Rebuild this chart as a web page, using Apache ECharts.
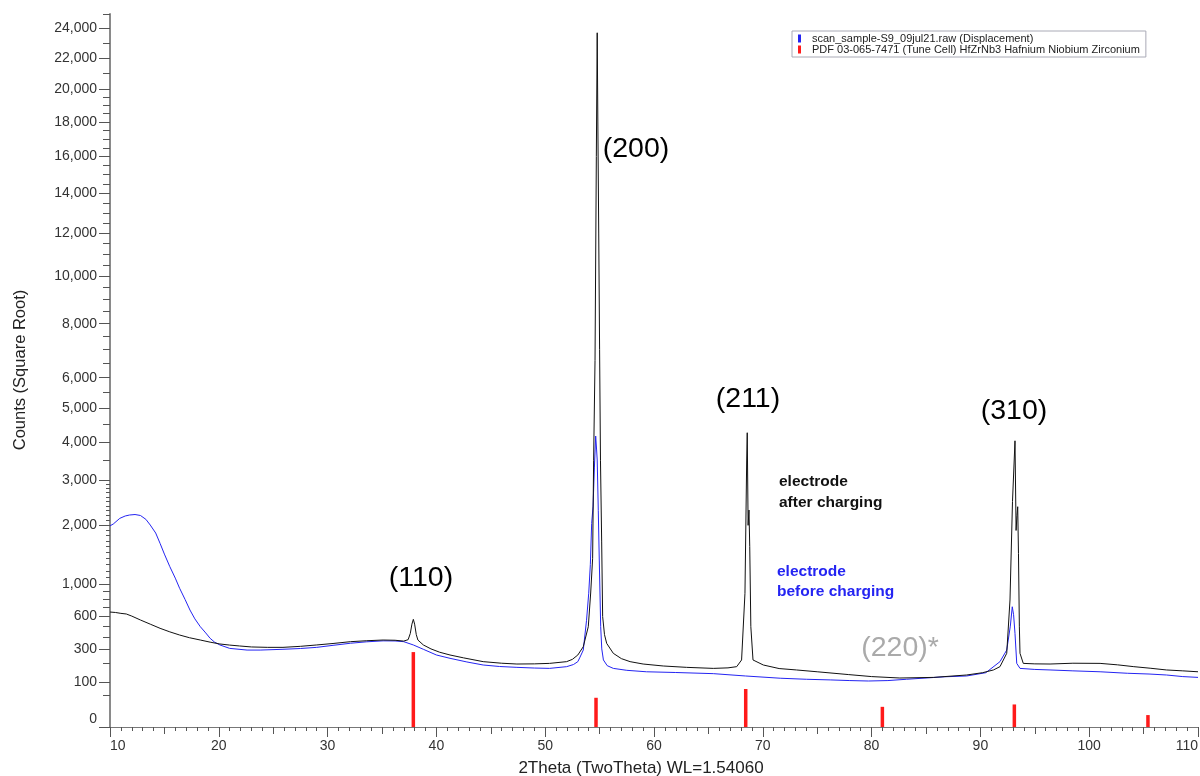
<!DOCTYPE html>
<html>
<head>
<meta charset="utf-8">
<title>XRD pattern – HfZrNb3 electrode</title>
<script src="https://cdn.jsdelivr.net/npm/echarts@6/dist/echarts.min.js"></script>
<style>
  html, body { margin: 0; padding: 0; background: #fff; }
  #chart { width: 1200px; height: 776px; }
</style>
</head>
<body>
<div id="chart"></div>
<script>
// Scan after charging: [2theta (deg), counts]
const afterCharging = [
  [10.0, 650], [10.5, 645], [11.0, 635], [11.5, 628], [12.0, 605], [12.8, 563], [13.7, 520],
  [14.6, 479], [15.5, 445], [16.4, 416], [17.3, 392], [18.3, 372], [19.2, 354], [20.1, 339],
  [21.0, 330], [21.9, 323], [23.0, 315], [24.5, 312], [25.9, 312], [27.5, 320], [29.0, 331],
  [30.5, 343], [32.1, 358], [33.6, 366], [35.1, 372], [36.2, 370], [37.0, 363], [37.4, 375],
  [37.6, 430], [37.75, 520], [37.88, 570], [38.0, 520], [38.15, 420], [38.3, 372], [38.8, 331],
  [39.5, 300], [40.3, 275], [41.25, 255], [42.5, 235], [44.3, 210], [46.0, 200], [47.4, 195],
  [49.0, 196], [50.4, 199], [51.97, 210], [52.5, 225], [53.0, 255], [53.5, 317], [53.96, 495],
  [54.18, 883], [54.36, 1400], [54.45, 3500], [54.58, 6600], [54.7, 16000], [54.78, 23700],
  [54.84, 18000], [54.92, 12000], [55.0, 7000], [55.08, 3500], [55.19, 1700], [55.28, 600],
  [55.45, 420], [55.65, 344], [56.26, 267], [57.0, 230], [57.8, 210], [59.0, 195], [60.85, 183],
  [63.0, 175], [65.45, 169], [66.8, 172], [67.6, 179], [68.05, 221], [68.36, 879], [68.52, 3505],
  [68.57, 4258], [68.65, 2000], [68.73, 2315], [68.8, 1600], [68.9, 495], [69.1, 221], [70.05, 189],
  [71.5, 168], [73.1, 160], [75.0, 150], [77.9, 135], [80.0, 125], [82.6, 118], [85.7, 121],
  [88.74, 133], [90.2, 145], [91.2, 160], [91.8, 179], [92.42, 267], [92.72, 793], [92.95, 2500],
  [93.18, 4028], [93.28, 1900], [93.36, 2200], [93.43, 2386], [93.5, 1482], [93.58, 500],
  [93.64, 267], [93.94, 199], [95.0, 196], [96.4, 195], [98.5, 200], [101.0, 199], [102.6, 190],
  [104.1, 179], [105.6, 170], [107.1, 160], [108.6, 155], [110.0, 150]
];

// Scan before charging: [2theta (deg), counts]
const beforeCharging = [
  [10.0, 1990], [10.3, 2026], [10.9, 2141], [11.4, 2190], [11.8, 2210], [12.3, 2220], [12.8, 2200],
  [13.3, 2120], [13.7, 2006], [14.2, 1850], [14.6, 1659], [15.0, 1470], [15.5, 1264], [16.0, 1090],
  [16.4, 946], [16.9, 800], [17.35, 673], [17.8, 575], [18.3, 495], [18.8, 435], [19.2, 387],
  [19.6, 355], [20.1, 331], [21.0, 304], [22.6, 291], [23.8, 291], [25.9, 297], [27.5, 303],
  [29.0, 312], [30.5, 328], [32.1, 345], [33.6, 357], [35.1, 365], [36.2, 364], [37.0, 358],
  [37.88, 331], [38.8, 297], [40.0, 255], [41.25, 232], [42.8, 208], [44.3, 189], [45.8, 180],
  [47.4, 175], [49.0, 171], [50.4, 169], [51.97, 179], [52.6, 192], [53.0, 210], [53.2, 240],
  [53.5, 291], [53.8, 560], [54.0, 880], [54.15, 1300], [54.27, 2037], [54.4, 2400], [54.52, 3300],
  [54.64, 4163], [54.72, 3800], [54.78, 3505], [54.88, 2300], [54.97, 1371], [55.1, 495],
  [55.2, 300], [55.35, 221], [55.7, 185], [56.26, 169], [57.5, 158], [59.3, 150], [62.0, 146],
  [65.45, 140], [68.4, 128], [71.6, 117], [74.0, 112], [76.2, 109], [78.0, 106], [79.7, 104],
  [81.5, 106], [83.2, 112], [85.0, 118], [86.7, 124], [88.74, 128], [90.5, 145], [91.8, 210],
  [92.42, 291], [92.75, 500], [92.93, 711], [93.05, 620], [93.18, 431], [93.34, 199], [93.64, 169],
  [95.0, 163], [96.4, 160], [98.5, 155], [101.0, 150], [103.5, 142], [105.5, 138], [107.1, 133],
  [108.6, 125], [110.0, 121]
];

// Reference pattern PDF 03-065-7471 (HfZrNb3): line positions and heights
const pdfPositions = [37.88, 54.67, 68.43, 80.99, 93.12, 105.4];
const pdfCounts = [276, 42, 71, 20, 25, 7];

// Square-root axis ticks (in counts)
const yMajorTicks = [0, 100, 300, 600, 1000, 2000, 3000, 4000, 5000, 6000, 8000, 10000,
  12000, 14000, 16000, 18000, 20000, 22000, 24000];
const yMinorTicks = [50, 200, 400, 500, 700, 800, 900, 3500, 4500, 5500, 6500, 7000, 7500,
  8500, 9000, 9500, 10500, 11000, 11500, 12500, 13000, 13500, 14500, 15000, 15500, 16500,
  17000, 17500, 18500, 19000, 19500, 21000, 23000, 25000];
const ySmallTicks = [1100, 1200, 1300, 1400, 1500, 1600, 1700, 1800, 1900,
  2100, 2200, 2300, 2400, 2500, 2600, 2700, 2800, 2900];
const yMaxCount = 25000;
const xMin = 10, xMax = 110;

const seriesBlackName = 'electrode after charging';
const seriesBlueName = 'scan_sample-S9_09jul21.raw (Displacement)';
const seriesPdfName = 'PDF 03-065-7471 (Tune Cell) HfZrNb3 Hafnium Niobium Zirconium';

const FONT = '"Liberation Sans", Arial, Helvetica, sans-serif';
const sqrtPts = arr => arr.map(p => [p[0], Math.sqrt(p[1])]);
const fmtCount = v => {
  const n = Math.round(v * v);
  return n.toString().replace(/\B(?=(\d{3})+(?!\d))/g, ',');
};

const yBase = {
  type: 'value', min: 0, max: Math.sqrt(yMaxCount), position: 'left',
  splitLine: { show: false }, axisLine: { show: false }
};

const chart = echarts.init(document.getElementById('chart'), null, { renderer: 'canvas' });

chart.setOption({
  animation: false,
  backgroundColor: '#ffffff',
  grid: { left: 110, right: 2, top: 14, bottom: 49, containLabel: false, outerBoundsMode: 'none' },
  legend: {
    orient: 'vertical', left: 792, top: 31,
    data: [seriesBlueName, seriesPdfName],
    icon: 'rect', itemWidth: 3, itemHeight: 8, itemGap: 0,
    padding: [2, 6, 2, 6],
    borderColor: '#a9aab6', borderWidth: 1, backgroundColor: '#fff',
    selectedMode: false,
    textStyle: { fontFamily: FONT, fontSize: 11, lineHeight: 11, color: '#222', padding: [0, 0, 0, 6] }
  },
  xAxis: [
    {
      type: 'value', min: xMin, max: xMax, interval: 10,
      axisLine: { show: true, onZero: false, lineStyle: { color: '#777', width: 1.2 } },
      axisTick: { show: true, inside: false, length: 10, lineStyle: { color: '#555' } },
      minorTick: { show: true, splitNumber: 10, length: 4, lineStyle: { color: '#555' } },
      splitLine: { show: false },
      axisLabel: { fontFamily: FONT, fontSize: 14, color: '#333', margin: 12,
        alignMinLabel: 'left', alignMaxLabel: 'right' }
    },
    {
      type: 'value', min: xMin, max: xMax, interval: 5, position: 'bottom',
      axisLine: { show: false },
      axisTick: { show: true, inside: false, length: 7, lineStyle: { color: '#555' } },
      axisLabel: { show: false }, splitLine: { show: false }
    }
  ],
  yAxis: [
    Object.assign({}, yBase, {
      axisLine: { show: true, onZero: false, lineStyle: { color: '#8a8a8a', width: 2 } },
      axisTick: { show: true, inside: false, length: 11, customValues: yMajorTicks.map(Math.sqrt),
        lineStyle: { color: '#555' } },
      axisLabel: {
        customValues: yMajorTicks.map(Math.sqrt),
        fontFamily: FONT, fontSize: 14, color: '#333', margin: 13,
        formatter: v => (Math.round(v * v) === 0 ? '{zero|0}' : fmtCount(v)),
        rich: { zero: { fontFamily: FONT, fontSize: 14, color: '#333', padding: [0, 0, 16, 0] } }
      }
    }),
    Object.assign({}, yBase, {
      axisTick: { show: true, inside: false, length: 7, customValues: yMinorTicks.map(Math.sqrt),
        lineStyle: { color: '#555' } },
      axisLabel: { show: false }
    }),
    Object.assign({}, yBase, {
      axisTick: { show: true, inside: false, length: 4, customValues: ySmallTicks.map(Math.sqrt),
        lineStyle: { color: '#555' } },
      axisLabel: { show: false }
    })
  ],
  series: [
    {
      name: seriesPdfName, type: 'custom', xAxisIndex: 0, yAxisIndex: 0,
      itemStyle: { color: '#ff1a1a' },
      data: pdfPositions.map((x, i) => [x, Math.sqrt(pdfCounts[i])]),
      renderItem: (params, api) => {
        const top = api.coord([api.value(0), api.value(1)]);
        const base = api.coord([api.value(0), 0]);
        return {
          type: 'rect',
          shape: { x: top[0] - 1.75, y: top[1], width: 3.5, height: base[1] - top[1] },
          style: { fill: '#ff1a1a' }
        };
      },
      z: 1
    },
    {
      name: seriesBlueName, type: 'line', xAxisIndex: 0, yAxisIndex: 0,
      data: sqrtPts(beforeCharging), showSymbol: false, symbol: 'none',
      lineStyle: { color: '#2424f2', width: 1 }, itemStyle: { color: '#2424f2' }, z: 2
    },
    {
      name: seriesBlackName, type: 'line', xAxisIndex: 0, yAxisIndex: 0,
      data: sqrtPts(afterCharging), showSymbol: false, symbol: 'none',
      lineStyle: { color: '#111', width: 1 }, itemStyle: { color: '#111' }, z: 3
    }
  ],
  graphic: [
    { type: 'text', x: 20, y: 370, rotation: Math.PI / 2,
      style: { text: 'Counts (Square Root)', font: '16.5px ' + FONT, fill: '#222', align: 'center', verticalAlign: 'middle' } },
    { type: 'text', x: 641, y: 768,
      style: { text: '2Theta (TwoTheta) WL=1.54060', font: '17px ' + FONT, fill: '#222', align: 'center', verticalAlign: 'middle' } },
    { type: 'text', x: 421, y: 578,
      style: { text: '(110)', font: '28.5px ' + FONT, fill: '#000', align: 'center', verticalAlign: 'middle' } },
    { type: 'text', x: 636, y: 149,
      style: { text: '(200)', font: '28.5px ' + FONT, fill: '#000', align: 'center', verticalAlign: 'middle' } },
    { type: 'text', x: 748, y: 399,
      style: { text: '(211)', font: '28.5px ' + FONT, fill: '#000', align: 'center', verticalAlign: 'middle' } },
    { type: 'text', x: 1014, y: 411,
      style: { text: '(310)', font: '28.5px ' + FONT, fill: '#000', align: 'center', verticalAlign: 'middle' } },
    { type: 'text', x: 900, y: 648,
      style: { text: '(220)*', font: '28.5px ' + FONT, fill: '#aaaaaa', align: 'center', verticalAlign: 'middle' } },
    { type: 'text', x: 779, y: 482,
      style: { text: 'electrode', font: 'bold 15.5px ' + FONT, fill: '#111', align: 'left', verticalAlign: 'middle' } },
    { type: 'text', x: 779, y: 503,
      style: { text: 'after charging', font: 'bold 15.5px ' + FONT, fill: '#111', align: 'left', verticalAlign: 'middle' } },
    { type: 'text', x: 777, y: 572,
      style: { text: 'electrode', font: 'bold 15.5px ' + FONT, fill: '#2424f2', align: 'left', verticalAlign: 'middle' } },
    { type: 'text', x: 777, y: 592,
      style: { text: 'before charging', font: 'bold 15.5px ' + FONT, fill: '#2424f2', align: 'left', verticalAlign: 'middle' } }
  ]
});
</script>
</body>
</html>
